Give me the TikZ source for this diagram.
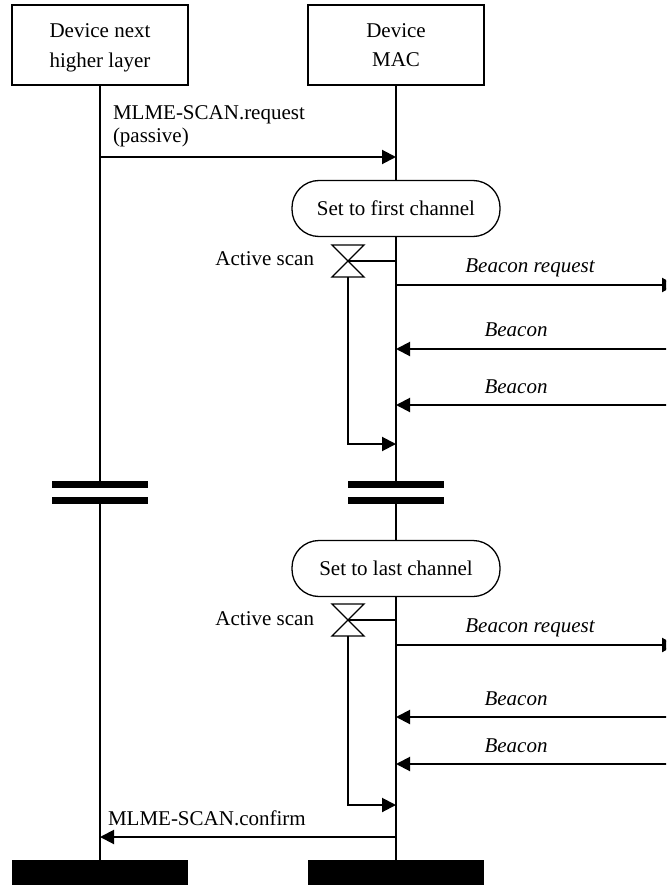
\documentclass[tikz,border=0pt]{standalone}
\usepackage{fontspec}
\setmainfont{Liberation Serif}
\usetikzlibrary{arrows.meta}
\begin{document}
\begin{tikzpicture}[x=1pt,y=-1pt,
  every node/.style={inner sep=0pt, outer sep=0pt},
  txt/.style={font=\fontsize{21}{25}\selectfont},
  itxt/.style={font=\fontsize{21}{25}\selectfont\itshape},
  entity/.style={draw, line width=2pt, minimum width=176pt, minimum height=80pt},
  pill/.style={draw, line width=1.3pt, rounded corners=27pt, minimum width=208pt, minimum height=56pt, font=\fontsize{21}{25}\selectfont},
  bar/.style={fill=black, minimum width=96pt, minimum height=7.5pt},
  endbar/.style={fill=black, minimum width=176pt, minimum height=25pt},
  life/.style={line width=2pt},
  msg/.style={line width=2pt, -{Triangle[length=14pt,width=14pt]}},
  timer/.style={line width=1.3pt},
]
\useasboundingbox (0,0) rectangle (666,885);
\clip (0,0) rectangle (666,885);

% entities
\node[entity] (hl) at (100,45) {};
\node[entity] (mac) at (396,45) {};
\node[txt, anchor=base] (hlt1) at (100,38) {Device next};
\node[txt, anchor=base] (hlt2) at (100,68) {higher layer};
\node[txt, anchor=base] (mact1) at (396,38) {Device};
\node[txt, anchor=base] (mact2) at (396,67) {MAC};

% break bars and end bars
\node[bar] (hlb1) at (100,484.5) {};
\node[bar] (hlb2) at (100,500.5) {};
\node[bar] (macb1) at (396,484.5) {};
\node[bar] (macb2) at (396,500.5) {};
\node[endbar] (hle) at (100,872.5) {};
\node[endbar] (mace) at (396,872.5) {};

% state pills
\node[pill] (p1) at (396,208.5) {Set to first channel};
\node[pill] (p2) at (396,568.5) {Set to last channel};

% lifelines
\draw[life] (hl.south) -- (hlb1.north);
\draw[life] (hlb2.south) -- (hle.north);
\draw[life] (mac.south) -- (p1.north);
\draw[life] (p1.south) -- (macb1.north);
\draw[life] (macb2.south) -- (p2.north);
\draw[life] (p2.south) -- (mace.north);

% request
\coordinate (reqs) at (100,157);
\coordinate (reqe) at (396,157);
\draw[msg] (reqs) -- (reqe);
\node[txt, anchor=base west] (reqt1) at (113,120) {MLME-SCAN.request};
\node[txt, anchor=base west] (reqt2) at (113,143) {(passive)};

% first channel
\coordinate (t1) at (348,261);
\coordinate (t1m) at (396,261);
\coordinate (t1b) at (348,277);
\coordinate (lp1) at (396,444);
\draw[timer] (t1) ++(-16,-16) -- ++(32,0) -- ++(-32,32) -- ++(32,0) -- cycle;
\draw[timer] (t1) -- (t1m);
\draw[msg] (t1b) |- (lp1);
\node[txt, anchor=base east] (as1) at (314,265) {Active scan};

\coordinate (br1s) at (396,285);
\coordinate (br1e) at (676,285);
\draw[msg] (br1s) -- (br1e);
\node[itxt, anchor=base] (br1t) at (530,272) {Beacon request};

\coordinate (b1s) at (670,349);
\coordinate (b1e) at (396,349);
\draw[msg] (b1s) -- (b1e);
\node[itxt, anchor=base] (b1t) at (516,336) {Beacon};

\coordinate (b2s) at (670,405);
\coordinate (b2e) at (396,405);
\draw[msg] (b2s) -- (b2e);
\node[itxt, anchor=base] (b2t) at (516,393) {Beacon};

% last channel
\coordinate (t2) at (348,620);
\coordinate (t2m) at (396,620);
\coordinate (t2b) at (348,636);
\coordinate (lp2) at (396,805);
\draw[timer] (t2) ++(-16,-16) -- ++(32,0) -- ++(-32,32) -- ++(32,0) -- cycle;
\draw[timer] (t2) -- (t2m);
\draw[msg] (t2b) |- (lp2);
\node[txt, anchor=base east] (as2) at (314,625) {Active scan};

\coordinate (br2s) at (396,645);
\coordinate (br2e) at (676,645);
\draw[msg] (br2s) -- (br2e);
\node[itxt, anchor=base] (br2t) at (530,632) {Beacon request};

\coordinate (b3s) at (670,717);
\coordinate (b3e) at (396,717);
\draw[msg] (b3s) -- (b3e);
\node[itxt, anchor=base] (b3t) at (516,705) {Beacon};

\coordinate (b4s) at (670,764);
\coordinate (b4e) at (396,764);
\draw[msg] (b4s) -- (b4e);
\node[itxt, anchor=base] (b4t) at (516,752) {Beacon};

% confirm
\coordinate (cfs) at (396,837);
\coordinate (cfe) at (100,837);
\draw[msg] (cfs) -- (cfe);
\node[txt, anchor=base west] (cft) at (108,825) {MLME-SCAN.confirm};
\end{tikzpicture}
\end{document}
